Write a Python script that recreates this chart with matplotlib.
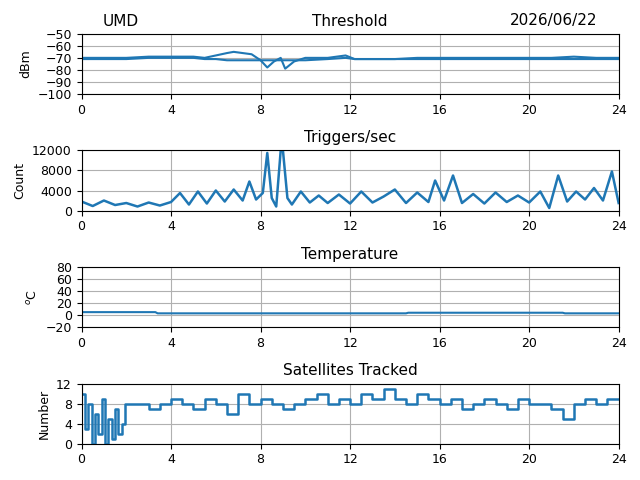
import numpy as np
import matplotlib.pyplot as plt

plt.rcParams['font.size'] = 9

# Threshold (hours, dBm) - two traces
thr_t = [0, 1, 2, 3, 4, 5, 5.5, 6, 6.5, 6.8, 7.2, 7.6, 8.0, 8.3, 8.6, 8.9, 9.1, 9.5, 10, 11, 11.8, 12.2, 13, 14, 15, 16, 17, 18, 19, 20, 21, 22, 23, 24]
thr_a = [-70, -70, -70, -69, -69, -69, -70, -68, -66, -65, -66, -67, -72, -78, -73, -70, -79, -73, -70, -70, -68, -71, -71, -71, -70, -70, -70, -70, -70, -70, -70, -69, -70, -70]
thr_b = [-71, -71, -71, -70, -70, -70, -71, -71, -72, -72, -72, -72, -72, -72, -72, -72, -72, -72, -72, -71, -70, -71, -71, -71, -71, -71, -71, -71, -71, -71, -71, -71, -71, -71]

# Triggers/sec
trg_t = [0, 0.5, 1, 1.5, 2, 2.5, 3, 3.5, 4, 4.4, 4.8, 5.2, 5.6, 6, 6.4, 6.8, 7.2, 7.5, 7.8, 8.1, 8.3, 8.5, 8.7, 8.9, 9.0, 9.2, 9.4, 9.8, 10.2, 10.6, 11, 11.5, 12, 12.5, 13, 13.5, 14, 14.5, 15, 15.5, 15.8, 16.2, 16.6, 17, 17.5, 18, 18.5, 19, 19.5, 20, 20.5, 20.9, 21.3, 21.7, 22.1, 22.5, 22.9, 23.3, 23.7, 24]
trg_v = [1800, 900, 2000, 1100, 1500, 800, 1600, 1000, 1700, 3500, 1200, 3800, 1400, 4000, 1800, 4200, 2000, 5800, 2200, 3500, 11500, 2500, 800, 12000, 12000, 2500, 1200, 3800, 1600, 3000, 1500, 3200, 1400, 3800, 1600, 2800, 4200, 1500, 3600, 1700, 6000, 2000, 7000, 1500, 3300, 1400, 3600, 1700, 3000, 1600, 3800, 500, 7000, 1800, 3800, 2200, 4500, 2000, 7800, 1500]

# Temperature
tmp_t = [0, 3.3, 3.4, 14.5, 14.6, 21.5, 21.6, 24]
tmp_v = [5, 5, 3, 3, 4, 4, 3, 3]

# Satellites tracked
sat_t = [0, 0.15, 0.3, 0.45, 0.6, 0.75, 0.9, 1.05, 1.2, 1.35, 1.5, 1.65, 1.8, 1.95, 2.1, 2.5, 3, 3.5, 4, 4.5, 5, 5.5, 6, 6.5, 7, 7.5, 8, 8.5, 9, 9.5, 10, 10.5, 11, 11.5, 12, 12.5, 13, 13.5, 14, 14.5, 15, 15.5, 16, 16.5, 17, 17.5, 18, 18.5, 19, 19.5, 20, 20.5, 21, 21.5, 22, 22.5, 23, 23.5, 24]
sat_v = [10, 3, 8, 0, 6, 2, 9, 0, 5, 1, 7, 2, 4, 8, 8, 8, 7, 8, 9, 8, 7, 9, 8, 6, 10, 8, 9, 8, 7, 8, 9, 10, 8, 9, 8, 10, 9, 11, 9, 8, 10, 9, 8, 9, 7, 8, 9, 8, 7, 9, 8, 8, 7, 5, 8, 9, 8, 9, 9]

c = '#1f77b4'
fig, axs = plt.subplots(4, 1, figsize=(6.4, 4.8))

ax = axs[0]
ax.plot(thr_t, thr_a, color=c)
ax.plot(thr_t, thr_b, color=c)
ax.set_ylim(-100, -50)
ax.set_yticks(range(-100, -49, 10))
ax.set_ylabel('dBm')
ax.set_title('Threshold', fontsize=11)
ax.set_title('UMD', loc='left', x=0.04, fontsize=11)
ax.set_title('2026/06/22', loc='right', x=0.96, fontsize=11)

ax = axs[1]
ax.plot(trg_t, trg_v, color=c, lw=1.8)
ax.set_ylim(0, 12000)
ax.set_yticks([0, 4000, 8000, 12000])
ax.set_ylabel('Count')
ax.set_title('Triggers/sec', fontsize=11)

ax = axs[2]
ax.plot(tmp_t, tmp_v, color=c)
ax.set_ylim(-20, 80)
ax.set_yticks(range(-20, 81, 20))
ax.set_ylabel(r'$^o$C')
ax.set_title('Temperature', fontsize=11)

ax = axs[3]
ax.step(sat_t, sat_v, color=c, where='post', lw=1.8)
ax.set_ylim(0, 12)
ax.set_yticks([0, 4, 8, 12])
ax.set_ylabel('Number')
ax.set_title('Satellites Tracked', fontsize=11)

for ax in axs:
    ax.set_xlim(0, 24)
    ax.set_xticks(range(0, 25, 4))
    ax.grid(True)

fig.tight_layout()
fig.savefig('out.png', dpi=100)
